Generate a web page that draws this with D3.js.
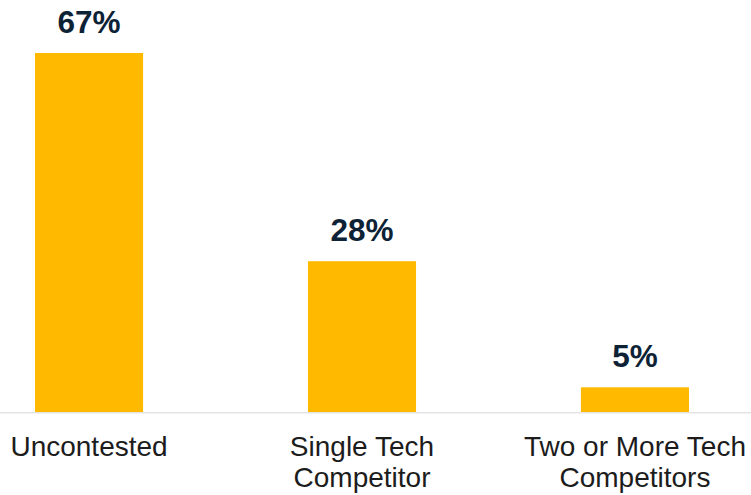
<!DOCTYPE html>
<html>
<head>
<meta charset="utf-8">
<script src="https://cdnjs.cloudflare.com/ajax/libs/d3/7.8.5/d3.min.js"></script>
<style>
  html, body { margin: 0; padding: 0; background: #fff; }
  svg { display: block; }
</style>
</head>
<body>
<svg width="751" height="495"></svg>
<script>
// categories (split into lines) and values
var categories = ['Uncontested', 'Single Tech Competitor', 'Two or More Tech Competitors'];
var categoryLines = [['Uncontested'], ['Single Tech', 'Competitor'], ['Two or More Tech', 'Competitors']];
var values = [66.9, 28.1, 4.6];
var valueLabels = ['67%', '28%', '5%'];

var svg = d3.select('svg');
var baseY = 412;

var x = d3.scaleBand()
	.domain(categories)
	.range([35, 689])
	.paddingInner(0.604)
	.paddingOuter(0);

var y = d3.scaleLinear()
	.domain([0, 66.9])
	.range([baseY, 53]);

// axis line
svg.append('line')
	.attr('x1', 0).attr('x2', 751)
	.attr('y1', baseY + 0.75).attr('y2', baseY + 0.75)
	.style('stroke', '#e4e4e4')
	.style('stroke-width', 1.5);

svg.selectAll('rect.bar')
	.data(values)
	.enter().append('rect')
	.attr('class', 'bar')
	.attr('x', function(d, i){ return x(categories[i]); })
	.attr('y', function(d){ return y(d); })
	.attr('width', x.bandwidth())
	.attr('height', function(d){ return baseY - y(d); })
	.style('fill', '#FFBA00');

svg.selectAll('text.val')
	.data(values)
	.enter().append('text')
	.attr('class', 'val')
	.attr('x', function(d, i){ return x(categories[i]) + x.bandwidth() / 2; })
	.attr('y', function(d){ return Math.max(30, y(d) - 20); })
	.attr('text-anchor', 'middle')
	.style('font-family', 'Arial, "Liberation Sans", sans-serif')
	.style('font-weight', 'bold')
	.style('font-size', '31.5px')
	.style('fill', '#0e2236')
	.text(function(d, i){ return valueLabels[i]; });

var cat = svg.selectAll('text.cat')
	.data(categories)
	.enter().append('text')
	.attr('class', 'cat')
	.attr('text-anchor', 'middle')
	.style('font-family', 'Arial, "Liberation Sans", sans-serif')
	.style('font-size', '28px')
	.style('fill', '#1c1c1c');

cat.each(function(d, i){
	var t = d3.select(this);
	var cx = x(d) + x.bandwidth() / 2;
	categoryLines[i].forEach(function(line, j){
		t.append('tspan')
			.attr('x', cx)
			.attr('y', 456 + j * 30.5)
			.text(line);
	});
});
</script>
</body>
</html>
